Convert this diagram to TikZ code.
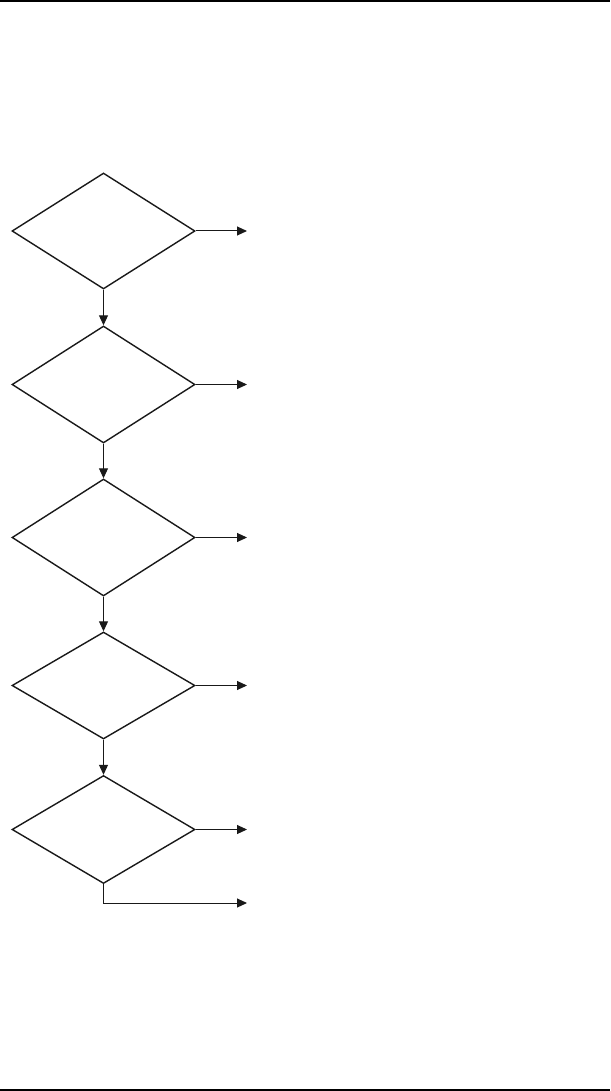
\documentclass[tikz,border=0pt]{standalone}
\usetikzlibrary{shapes.geometric,arrows.meta}
\begin{document}
\begin{tikzpicture}[x=1pt,y=-1pt,
  dec/.style={draw=black!90,diamond,inner sep=0pt,line width=1.4pt,minimum width=183pt},
  conn/.style={draw=black!90,line width=1pt,-{Triangle[length=10pt,width=9pt]}},
  rule/.style={line width=2pt}]
\useasboundingbox (0,0) rectangle (610,1091);
\draw[rule] (0,1) -- (610,1);
\draw[rule] (0,1090) -- (610,1090);
\node[dec,minimum height=116pt] (d1) at (103.5,231) {};
\node[dec,minimum height=117pt] (d2) at (103.5,384.5) {};
\node[dec,minimum height=117pt] (d3) at (103.5,537.5) {};
\node[dec,minimum height=107pt] (d4) at (103.5,685.5) {};
\node[dec,minimum height=108pt] (d5) at (103.5,829.5) {};
\coordinate (o1) at (247,231);
\coordinate (o2) at (247,384.5);
\coordinate (o3) at (247,537.5);
\coordinate (o4) at (247,685.5);
\coordinate (o5) at (247,829.5);
\coordinate (o6) at (247,903);
\coordinate (k) at (103.5,903);
\draw[conn] (d1.east) -- (o1);
\draw[conn] (d2.east) -- (o2);
\draw[conn] (d3.east) -- (o3);
\draw[conn] (d4.east) -- (o4);
\draw[conn] (d5.east) -- (o5);
\draw[conn] (d1.south) -- (d2.north);
\draw[conn] (d2.south) -- (d3.north);
\draw[conn] (d3.south) -- (d4.north);
\draw[conn] (d4.south) -- (d5.north);
\draw[conn] (d5.south) -- (k) -- (o6);
\end{tikzpicture}
\end{document}
